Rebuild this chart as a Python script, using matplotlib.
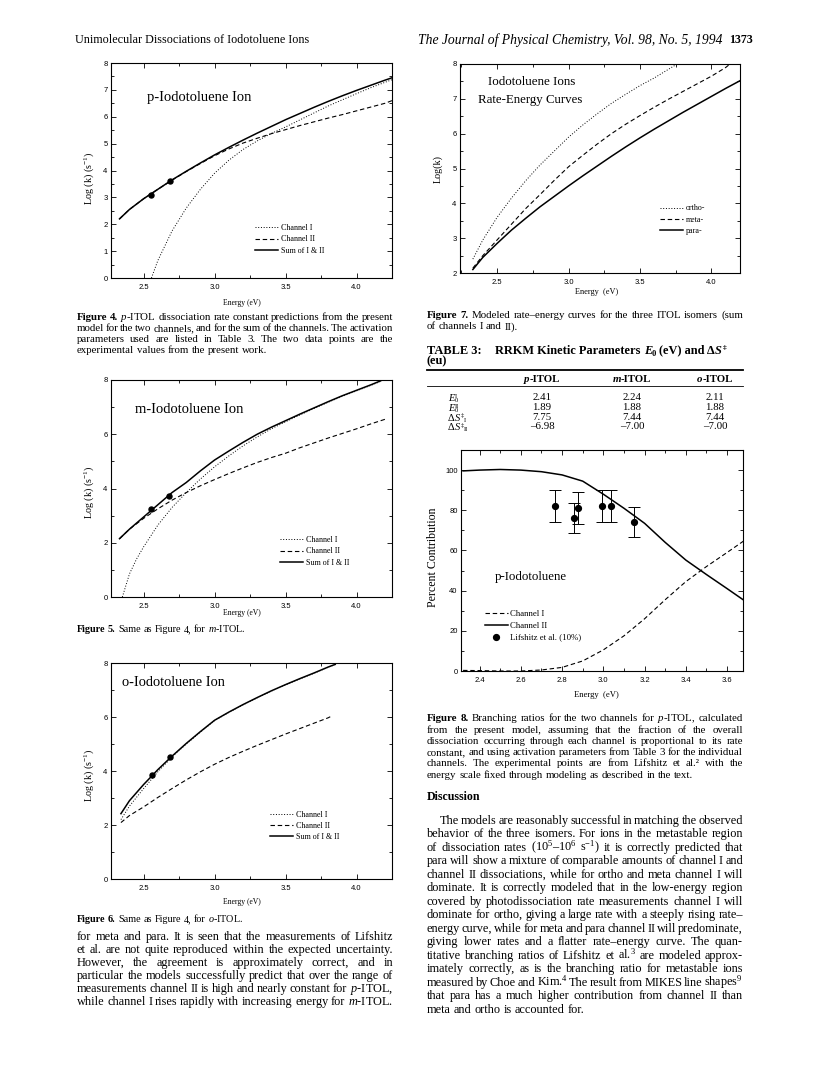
import matplotlib
matplotlib.use("Agg")
import matplotlib.pyplot as plt
from matplotlib.lines import Line2D
from matplotlib.ticker import MultipleLocator

W, H = 820, 1068
SERIF = "Liberation Serif"
SANS = "Liberation Sans"
plt.rcParams.update({
    "font.family": [SERIF, "DejaVu Serif"],
    "mathtext.fontset": "custom",
    "mathtext.rm": SERIF,
    "mathtext.it": SERIF + ":italic",
    "mathtext.bf": SERIF + ":bold",
    "axes.linewidth": 0.8,
})

# ---- Figure 4: p-ITOL rate constants ----
p_energy = [2.33, 2.4, 2.5, 2.6, 2.7, 2.8, 2.9, 3.0, 3.1, 3.2, 3.3, 3.4, 3.5, 3.6, 3.7, 3.8, 3.9, 4.0, 4.1, 4.2, 4.25]
p_sum = [2.2, 2.55, 2.95, 3.3, 3.65, 3.97, 4.28, 4.58, 4.86, 5.13, 5.39, 5.64, 5.89, 6.12, 6.35, 6.57, 6.78, 6.98, 7.17, 7.36, 7.45]
p_ch2 = [2.2, 2.55, 2.95, 3.3, 3.64, 3.96, 4.26, 4.55, 4.8, 5.02, 5.2, 5.37, 5.52, 5.67, 5.81, 5.95, 6.08, 6.22, 6.36, 6.5, 6.6]
p_ch1_energy = [2.555, 2.6, 2.7, 2.8, 2.9, 3.0, 3.1, 3.2, 3.3, 3.4, 3.5, 3.6, 3.7, 3.8, 3.9, 4.0, 4.1, 4.2, 4.25]
p_ch1 = [0.0, 0.65, 1.75, 2.6, 3.3, 3.9, 4.38, 4.78, 5.1, 5.38, 5.62, 5.88, 6.14, 6.4, 6.63, 6.86, 7.08, 7.28, 7.38]
p_exp_energy = [2.552, 2.683]
p_exp_logk = [3.08, 3.62]

# ---- Figure 5: m-ITOL ----
m_energy = [2.33, 2.4, 2.5, 2.6, 2.7, 2.8, 2.9, 3.0, 3.1, 3.2, 3.3, 3.4, 3.5, 3.6, 3.7, 3.8, 3.9, 4.0, 4.1, 4.17]
m_sum = [2.15, 2.5, 2.95, 3.4, 3.85, 4.22, 4.65, 5.05, 5.38, 5.7, 6.0, 6.26, 6.5, 6.74, 6.97, 7.2, 7.42, 7.62, 7.82, 7.97]
m_ch2_energy = [2.33, 2.4, 2.5, 2.6, 2.7, 2.8, 2.9, 3.0, 3.1, 3.2, 3.3, 3.4, 3.5, 3.6, 3.7, 3.8, 3.9, 4.0, 4.1, 4.2]
m_ch2 = [2.15, 2.5, 2.9, 3.25, 3.57, 3.85, 4.1, 4.33, 4.55, 4.76, 4.96, 5.14, 5.3, 5.5, 5.68, 5.86, 6.03, 6.2, 6.38, 6.55]
m_ch1_energy = [2.35, 2.4, 2.45, 2.5, 2.6, 2.7, 2.8, 2.9, 3.0, 3.1, 3.2, 3.3, 3.4, 3.5, 3.6, 3.7, 3.8, 3.9, 4.0, 4.1, 4.17]
m_ch1 = [0.0, 0.85, 1.4, 1.85, 2.65, 3.3, 3.85, 4.35, 4.8, 5.2, 5.57, 5.9, 6.2, 6.46, 6.71, 6.95, 7.18, 7.4, 7.6, 7.8, 7.95]
m_exp_energy = [2.551, 2.682]
m_exp_logk = [3.26, 3.74]

# ---- Figure 6: o-ITOL ----
o_energy = [2.34, 2.4, 2.5, 2.6, 2.7, 2.8, 2.9, 3.0, 3.1, 3.2, 3.3, 3.4, 3.5, 3.6, 3.7, 3.8, 3.85]
o_sum = [2.42, 2.9, 3.5, 4.05, 4.55, 5.02, 5.46, 5.88, 6.18, 6.46, 6.72, 6.97, 7.2, 7.42, 7.63, 7.85, 7.95]
o_ch1 = [2.2, 2.7, 3.35, 3.97, 4.52, 5.0, 5.44, 5.87, 6.17, 6.45, 6.71, 6.96, 7.19, 7.41, 7.62, 7.84, 7.94]
o_ch2_energy = [2.34, 2.4, 2.5, 2.6, 2.7, 2.8, 2.9, 3.0, 3.1, 3.2, 3.3, 3.4, 3.5, 3.6, 3.7, 3.8, 3.83]
o_ch2 = [2.09, 2.35, 2.67, 3.02, 3.35, 3.67, 3.97, 4.25, 4.5, 4.73, 4.95, 5.16, 5.37, 5.57, 5.77, 5.97, 6.05]
o_exp_energy = [2.558, 2.687]
o_exp_logk = [3.84, 4.52]

# ---- Figure 7: summed curves for the three isomers ----
ortho_energy = [2.33, 2.4, 2.5, 2.6, 2.7, 2.8, 2.9, 3.0, 3.1, 3.2, 3.3, 3.4, 3.5, 3.6, 3.7, 3.76]
ortho = [2.4, 2.95, 3.6, 4.15, 4.65, 5.1, 5.5, 5.9, 6.25, 6.57, 6.87, 7.13, 7.38, 7.6, 7.85, 8.0]
meta_energy = [2.33, 2.4, 2.5, 2.6, 2.7, 2.8, 2.9, 3.0, 3.1, 3.2, 3.3, 3.4, 3.5, 3.6, 3.7, 3.8, 3.9, 4.0, 4.1, 4.13]
meta = [2.14, 2.5, 2.95, 3.4, 3.85, 4.25, 4.66, 5.05, 5.38, 5.7, 6.0, 6.27, 6.52, 6.76, 6.99, 7.21, 7.43, 7.65, 7.9, 8.0]
para_energy = [2.33, 2.4, 2.5, 2.6, 2.7, 2.8, 2.9, 3.0, 3.1, 3.2, 3.3, 3.4, 3.5, 3.6, 3.7, 3.8, 3.9, 4.0, 4.1, 4.2]
para = [2.1, 2.45, 2.85, 3.23, 3.57, 3.9, 4.2, 4.5, 4.79, 5.07, 5.35, 5.62, 5.88, 6.13, 6.37, 6.61, 6.84, 7.07, 7.3, 7.52]

# ---- Figure 8: branching ratios for p-ITOL ----
br_energy = [2.32, 2.4, 2.5, 2.6, 2.7, 2.8, 2.9, 3.0, 3.1, 3.2, 3.3, 3.4, 3.5, 3.6, 3.68]
br_ch1 = [0.3, 0.2, 0.0, 0.0, 0.5, 1.8, 5.0, 10.5, 17.5, 26.0, 35.5, 44.5, 52.0, 59.0, 64.7]
br_ch2 = [99.6, 100.0, 100.3, 100.0, 99.2, 97.6, 94.5, 88.0, 81.0, 73.5, 64.0, 55.2, 48.0, 41.0, 35.3]
lif_energy = [2.766, 2.86, 2.879, 2.992, 3.035, 3.15]
lif_pct = [82, 76, 81, 82, 82, 74]
lif_err = [8, 7.5, 8, 8, 8, 7.5]

# ---- Table 3 ----
tab_cols = ["p", "m", "o"]
E0_I = [2.41, 2.24, 2.11]
E0_II = [1.89, 1.88, 1.88]
dS_I = [7.75, 7.44, 7.44]
dS_II = [-6.98, -7.00, -7.00]

fig = plt.figure(figsize=(W / 100, H / 100), dpi=100)
R = fig.canvas.get_renderer()


def fx(x):
    return x / W


def fy(y):
    return 1 - y / H


def txt(x, y, s, size, **kw):
    kw.setdefault("va", "center")
    return fig.text(fx(x), fy(y), s, fontsize=size, **kw)


def fit(x, y, s, width, ha="left", rot=0, **kw):
    t = txt(x, y, s, 10, ha=ha, rotation=rot, **kw)
    bb = t.get_window_extent(R)
    span = bb.height if rot else bb.width
    t.set_fontsize(10 * width / span)
    return t


def rich(x, y, segs, size, ha="left"):
    # segs: (text, gap before in em, text props [+ scale, dy in em])
    em = size * 100 / 72
    items = []
    for s, gap, kw in segs:
        kw = dict(kw)
        sc = kw.pop("scale", 1.0)
        dy = kw.pop("dy", 0.0)
        t = fig.text(0, 0, s, fontsize=size * sc, va="baseline", **kw)
        items.append((t, gap, dy, t.get_window_extent(R).width))
    total = sum(w + g * em for _, g, _, w in items)
    if ha == "center":
        x -= total / 2
    elif ha == "right":
        x -= total
    cur = x
    base = y + 0.3 * em
    for t, g, dy, w in items:
        cur += g * em
        t.set_position((fx(cur), fy(base + dy * em)))
        cur += w
    return cur


def sym(x, y, parts, sub, sup, size, sub_after=False):
    # symbol with a stacked sub/superscript, kept compact
    em = size * 100 / 72
    cur = rich(x, y, parts, size) + 0.3
    base = y + 0.3 * em
    ts = fig.text(fx(cur), fy(base - 0.3 * em), sup, fontsize=size * 0.62, va="baseline")
    xs = cur + (ts.get_window_extent(R).width + 0.3 if sub_after else 0)
    fig.text(fx(xs), fy(base + 0.12 * em), sub, fontsize=size * 0.62, va="baseline")


def block(lines, x0, x1, ys, size, nbold=0, just_last=False, indent=0):
    em0 = size * 100 / 72
    rows = []
    for i, s in enumerate(lines):
        rows.append([fig.text(0, 0, w, fontsize=size, va="baseline",
                              fontweight="bold" if (i == 0 and k < nbold) else "normal")
                     for k, w in enumerate(s.split())])
    scale = 1.0
    for i, ts in enumerate(rows):
        if i == len(rows) - 1 and not just_last:
            continue
        left = x0 + (indent if i == 0 else 0)
        ws = sum(t.get_window_extent(R).width for t in ts)
        scale = min(scale, (x1 - left) / (ws + 0.12 * em0 * (len(ts) - 1)))
    size *= scale
    em = size * 100 / 72
    for i, ts in enumerate(rows):
        left = x0 + (indent if i == 0 else 0)
        for t in ts:
            t.set_fontsize(size)
        ws = [t.get_window_extent(R).width for t in ts]
        if (i < len(rows) - 1 or just_last) and len(ts) > 1:
            gap = (x1 - left - sum(ws)) / (len(ts) - 1)
        else:
            gap = 0.25 * em
        cur = left
        for t, w in zip(ts, ws):
            t.set_position((fx(cur), fy(ys[i] + 0.3 * em)))
            cur += w + gap


def panel(l, t, r, b, xlim, ylim, xmaj, xmin, ymaj, ymin):
    ax = fig.add_axes([fx(l), fy(b), (r - l) / W, (b - t) / H])
    ax.set_xlim(xlim)
    ax.set_ylim(ylim)
    ax.xaxis.set_major_locator(MultipleLocator(xmaj))
    ax.xaxis.set_minor_locator(MultipleLocator(xmin))
    ax.yaxis.set_major_locator(MultipleLocator(ymaj))
    ax.yaxis.set_minor_locator(MultipleLocator(ymin))
    ax.tick_params(which="both", direction="in", top=True, right=True, width=0.6,
                   labelsize=5.5, labelfontfamily=SANS)
    ax.tick_params(which="major", length=3.5)
    ax.tick_params(which="minor", length=2)
    ax.tick_params(axis="x", pad=4.5)
    ax.tick_params(axis="y", pad=2.5)
    return ax


DOT = (0, (1, 1.8))
DASH = (0, (4, 2.5))
LEG = dict(frameon=False, fontsize=5.8, handlelength=2.9, handletextpad=0.3,
           labelspacing=0.4, borderpad=0, borderaxespad=0, loc="upper left")

# ---------------- page header ----------------
fit(75, 40, "Unimolecular Dissociations of Iodotoluene Ions", 233)
txt(753, 40, "1373", 8.6, ha="right", fontweight="bold")
fit(723, 40, "The Journal of Physical Chemistry, Vol. 98, No. 5, 1994", 306,
    ha="right", fontstyle="italic")

# ---------------- Figure 4 ----------------
ax = panel(111, 63, 392, 278, (2.27, 4.25), (0, 8), 0.5, 0.25, 1, 0.5)
ax.plot(p_ch1_energy, p_ch1, color="k", lw=0.7, ls=DOT, label="Channel I")
ax.plot(p_energy, p_ch2, color="k", lw=0.8, ls=DASH, label="Channel II")
ax.plot(p_energy, p_sum, color="k", lw=1.1, label="Sum of I & II")
ax.plot(p_exp_energy, p_exp_logk, "o", color="k", ms=3.6)
ax.legend(bbox_to_anchor=(0.512, 0.25), **LEG)
fit(147, 98, "p-Iodotoluene Ion", 104)
fit(89, 178, r"Log (k) (s$^{-1}$)", 53, ha="center", rot=90)
fit(242, 303, "Energy (eV)", 38, ha="center")

block([r"Figure 4. $\mathit{p}$-ITOL dissociation rate constant predictions from the present",
       "model for the two channels, and for the sum of the channels.  The activation",
       "parameters used are listed in Table 3.  The two data points are the",
       "experimental values from the present work."],
      77, 393, [317, 328, 339, 350], 7.8, nbold=2)

# ---------------- Figure 5 ----------------
ax = panel(111, 380, 392, 597, (2.27, 4.25), (0, 8), 0.5, 0.25, 2, 1)
ax.plot(m_ch1_energy, m_ch1, color="k", lw=0.7, ls=DOT, label="Channel I")
ax.plot(m_ch2_energy, m_ch2, color="k", lw=0.8, ls=DASH, label="Channel II")
ax.plot(m_energy, m_sum, color="k", lw=1.1, label="Sum of I & II")
ax.plot(m_exp_energy, m_exp_logk, "o", color="k", ms=3.6)
ax.legend(bbox_to_anchor=(0.601, 0.28), **LEG)
fit(135, 410, "m-Iodotoluene Ion", 108)
fit(89, 492, r"Log (k) (s$^{-1}$)", 53, ha="center", rot=90)
fit(242, 613, "Energy (eV)", 38, ha="center")
block([r"Figure 5.  Same as Figure 4, for $\mathit{m}$-ITOL."], 77, 393, [629], 7.3, nbold=2)

# ---------------- Figure 6 ----------------
ax = panel(111, 663, 392, 879, (2.27, 4.25), (0, 8), 0.5, 0.25, 2, 1)
ax.plot(o_energy, o_ch1, color="k", lw=0.7, ls=DOT, label="Channel I")
ax.plot(o_ch2_energy, o_ch2, color="k", lw=0.8, ls=DASH, label="Channel II")
ax.plot(o_energy, o_sum, color="k", lw=1.1, label="Sum of I & II")
ax.plot(o_exp_energy, o_exp_logk, "o", color="k", ms=3.6)
ax.legend(bbox_to_anchor=(0.566, 0.317), **LEG)
fit(122, 683, "o-Iodotoluene Ion", 103)
fit(89, 775, r"Log (k) (s$^{-1}$)", 53, ha="center", rot=90)
fit(242, 902, "Energy (eV)", 38, ha="center")
block([r"Figure 6.  Same as Figure 4, for $\mathit{o}$-ITOL."], 77, 393, [919], 7.3, nbold=2)

block(["for meta and para.  It is seen that the measurements of Lifshitz",
       "et al. are not quite reproduced within the expected uncertainty.",
       "However, the agreement is approximately correct, and in",
       "particular the models successfully predict that over the range of",
       r"measurements channel II is high and nearly constant for $\mathit{p}$-ITOL,",
       r"while channel I rises rapidly with increasing energy for $\mathit{m}$-ITOL."],
      77, 393, [936, 949, 962, 975, 988, 1001], 8.8, just_last=True)

# ---------------- Figure 7 ----------------
ax = panel(460, 64, 740, 273, (2.24, 4.2), (2, 8), 0.5, 0.25, 1, 0.5)
ax.plot(ortho_energy, ortho, color="k", lw=0.7, ls=DOT, label="ortho-")
ax.plot(meta_energy, meta, color="k", lw=0.8, ls=DASH, label="meta-")
ax.plot(para_energy, para, color="k", lw=1.1, label="para-")
ax.legend(bbox_to_anchor=(0.714, 0.328), **LEG)
fit(488, 82, "Iodotoluene Ions", 87)
fit(478, 100, "Rate-Energy Curves", 105)
fit(438, 169, "Log(k)", 28, ha="center", rot=90)
fit(597, 292, "Energy  (eV)", 43, ha="center")
block(["Figure 7.  Modeled rate–energy curves for the three ITOL isomers (sum",
       "of channels I and II)."], 427, 743, [315, 326], 7.8, nbold=2)

# ---------------- Table 3 ----------------
B = dict(fontweight="bold")
BI = dict(fontweight="bold", fontstyle="italic")
I_ = dict(fontstyle="italic")
rich(427, 350, [("TABLE 3:", 0, B), ("RRKM Kinetic Parameters", 1.1, B), ("E", 0.25, BI),
                ("0", 0, dict(fontweight="bold", scale=0.7, dy=0.2)), ("(eV) and Δ", 0.25, B),
                ("S", 0, BI), ("‡", 0.05, dict(fontweight="bold", scale=0.6, dy=-0.35))], 8.9)
rich(427, 361, [("(eu)", 0, B)], 8.9)
fig.add_artist(Line2D([fx(427), fx(743)], [fy(370), fy(370)], color="k", lw=1.3))
fig.add_artist(Line2D([fx(427), fx(743)], [fy(386), fy(386)], color="k", lw=0.6))
col_x = [542, 632, 715]
for cx, c in zip(col_x, tab_cols):
    rich(cx, 379, [(c, 0, BI), ("-ITOL", 0, B)], 7.8, ha="center")
row_y = [398, 408, 417.5, 427]
sym(448, row_y[0], [("E", 0, I_)], "0", "I", 7.6)
sym(448, row_y[1], [("E", 0, I_)], "0", "II", 7.6)
sym(448, row_y[2], [("Δ", 0, {}), ("S", 0, I_)], "I", "‡", 7.6, sub_after=True)
sym(448, row_y[3], [("Δ", 0, {}), ("S", 0, I_)], "II", "‡", 7.6, sub_after=True)
for ry, vals in zip(row_y, [E0_I, E0_II, dS_I, dS_II]):
    for cx, v in zip(col_x, vals):
        s = ("–%.2f" % -v) if v < 0 else ("%.2f" % v)
        txt(cx, ry, s, 7.8, ha="center")

# ---------------- Figure 8 ----------------
ax = panel(461, 450, 743, 671, (2.31, 3.677), (0, 110), 0.2, 0.1, 20, 10)
ax.plot(br_energy, br_ch1, color="k", lw=0.8, ls=DASH, label="Channel I")
ax.plot(br_energy, br_ch2, color="k", lw=1.1, label="Channel II")
ax.errorbar(lif_energy, lif_pct, yerr=lif_err, fmt="none", ecolor="k",
            elinewidth=0.7, capsize=4.5, capthick=0.7)
ax.plot(lif_energy, lif_pct, "o", color="k", ms=4.2, label="Lifshitz et al. (10%)")
leg8 = dict(LEG, fontsize=6.3, handlelength=2.6)
ax.legend(bbox_to_anchor=(0.085, 0.275), **leg8)
fit(495, 577, "p-Iodotoluene", 72)
fit(433, 557, "Percent Contribution", 99, ha="center", rot=90)
fit(596, 695, "Energy  (eV)", 45, ha="center")

block([r"Figure 8.  Branching ratios for the two channels for $\mathit{p}$-ITOL, calculated",
       "from the present model, assuming that the fraction of the overall",
       "dissociation occurring through each channel is proportional to its rate",
       "constant, and using activation parameters from Table 3 for the individual",
       "channels.  The experimental points are from Lifshitz et al.² with the",
       "energy scale fixed through modeling as described in the text."],
      427, 743, [718, 729.3, 740.6, 751.9, 763.2, 774.5], 7.8, nbold=2)

txt(427, 797, "Discussion", 8.6, fontweight="bold")

block(["The models are reasonably successful in matching the observed",
       "behavior of the three isomers.  For ions in the metastable region",
       "of dissociation rates (10$^5$–10$^6$ s$^{-1}$) it is correctly predicted that",
       "para will show a mixture of comparable amounts of channel I and",
       "channel II dissociations, while for ortho and meta channel I will",
       "dominate.  It is correctly modeled that in the low-energy region",
       "covered by photodissociation rate measurements channel I will",
       "dominate for ortho, giving a large rate with a steeply rising rate–",
       "energy curve, while for meta and para channel II will predominate,",
       "giving lower rates and a flatter rate–energy curve.  The quan-",
       "titative branching ratios of Lifshitz et al.$^3$ are modeled approx-",
       "imately correctly, as is the branching ratio for metastable ions",
       "measured by Choe and Kim.$^4$  The result from MIKES line shapes$^9$",
       "that para has a much higher contribution from channel II than",
       "meta and ortho is accounted for."],
      427, 743, [820 + 13.5 * i for i in range(15)], 8.8, indent=13)

fig.savefig("out.png", dpi=100)
